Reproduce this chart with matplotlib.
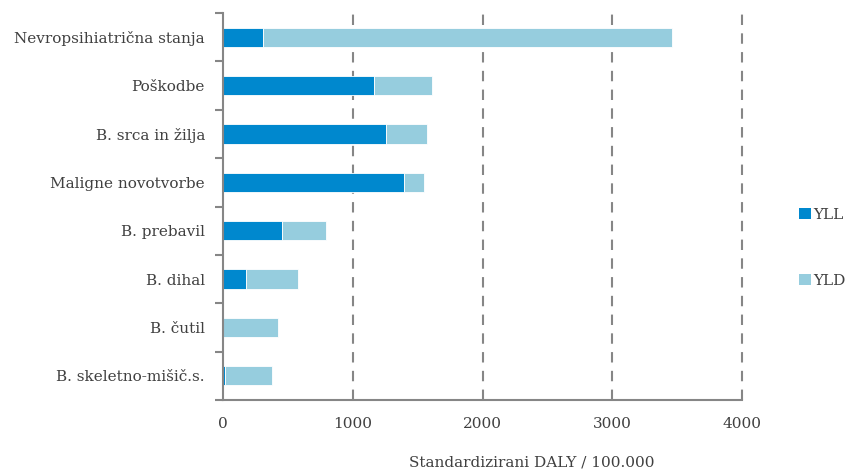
import numpy as np
import matplotlib.pyplot as plt
from matplotlib.patches import Patch

plt.rcParams['font.family'] = ['DejaVu Serif']

# breme bolezni po skupinah (standardizirani DALY / 100.000)
skupine = ["Nevropsihiatrična stanja", "Poškodbe", "B. srca in žilja",
           "Maligne novotvorbe", "B. prebavil", "B. dihal", "B. čutil",
           "B. skeletno-mišič.s."]
yll = [308, 1162, 1259, 1392, 454, 174, 0, 13]
yld = [3151, 451, 310, 159, 341, 403, 426, 366]

barva_yll = "#0088ce"
barva_yld = "#96cdde"
siva = "#868686"
tekst = "#404040"

fig = plt.figure(figsize=(8.46, 4.7), dpi=100)
ax = fig.add_axes([223 / 846, 1 - 400 / 470, (742 - 223) / 846, 387 / 470])

y = np.arange(len(skupine))
ax.barh(y, yll, height=0.4, color=barva_yll, edgecolor="white", linewidth=0.6, zorder=2)
ax.barh(y, yld, left=yll, height=0.4, color=barva_yld, edgecolor="white", linewidth=0.6, zorder=2)

ax.set_xlim(0, 4000)
ax.set_ylim(len(skupine) - 0.5, -0.5)

ax.set_xticks([0, 1000, 2000, 3000, 4000])
ax.tick_params(axis="x", length=0, pad=12, labelsize=11, labelcolor=tekst)
for xv in [1000, 2000, 3000, 4000]:
    ax.axvline(xv, color=siva, linestyle=(0, (5, 4)), linewidth=1.5, zorder=1, clip_on=False)

ax.set_yticks(y)
ax.set_yticklabels(skupine)
ax.tick_params(axis="y", which="major", length=0, pad=13, labelsize=11, labelcolor=tekst)
ax.set_yticks(np.arange(len(skupine) + 1) - 0.5, minor=True)
ax.tick_params(axis="y", which="minor", length=6, width=1.5, color=siva, direction="out")

for s in ["top", "right"]:
    ax.spines[s].set_visible(False)
for s in ["left", "bottom"]:
    ax.spines[s].set_color(siva)
    ax.spines[s].set_linewidth(1.5)

fig.text(532 / 846, 1 - 462 / 470, "Standardizirani DALY / 100.000",
         ha="center", va="center", fontsize=11, color=tekst)

oznake = [Patch(facecolor=barva_yll, label="YLL"), Patch(facecolor=barva_yld, label="YLD")]
leg = fig.legend(handles=oznake, loc="center left", bbox_to_anchor=(796 / 846, 1 - 248 / 470),
                 frameon=False, fontsize=11, handlelength=0.75, handleheight=0.75,
                 handletextpad=0.15, labelspacing=3.4, labelcolor=tekst,
                 borderpad=0.2, borderaxespad=0)

fig.savefig("out.png", dpi=100)
